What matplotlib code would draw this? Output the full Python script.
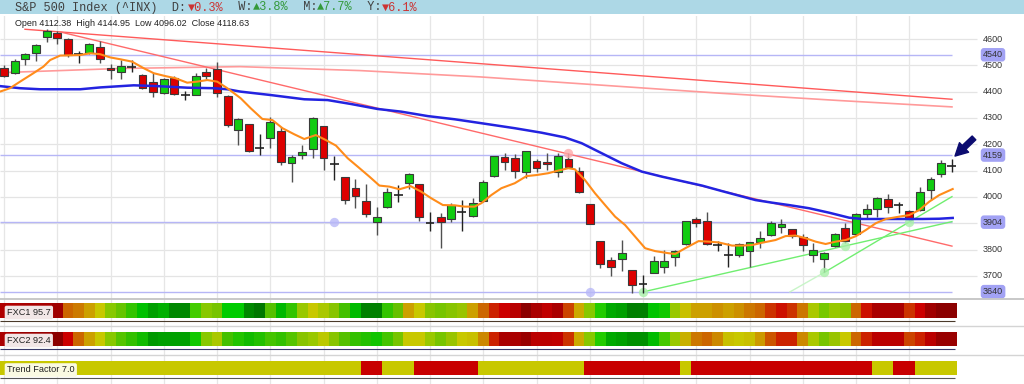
import matplotlib
matplotlib.use('Agg')
import matplotlib.pyplot as plt
from matplotlib.patches import Rectangle
import numpy as np

# ---------------- data ----------------
opens = [4491, 4472, 4525, 4546, 4606, 4624, 4599, 4546, 4548, 4571,
         4491, 4476, 4491, 4463, 4438, 4396, 4451, 4391, 4388, 4473,
         4487, 4385, 4254, 4277, 4185, 4223, 4252, 4130, 4159, 4182,
         4269, 4125, 4077, 4033, 3986, 3903, 3960, 4010, 4052, 4049,
         3902, 3925, 3917, 3941, 3927, 3984, 4079, 4150, 4147, 4093,
         4136, 4133, 4096, 4143, 4098, 3972, 3834, 3760, 3765, 3722,
         3669, 3712, 3735, 3773, 3821, 3916, 3908, 3821, 3782, 3778,
         3794, 3830, 3855, 3887, 3877, 3846, 3779, 3763, 3815, 3881,
         3859, 3934, 3953, 3992, 3969, 3948, 3950, 4026, 4086, 4112.38]
highs = [4501, 4523, 4548, 4580, 4637, 4630, 4603, 4554, 4586, 4592,
         4504, 4520, 4520, 4466, 4470, 4453, 4459, 4402, 4472, 4488,
         4511, 4387, 4299, 4277, 4238, 4305, 4267, 4159, 4197, 4305,
         4269, 4155, 4077, 4067, 4048, 3960, 4033, 4045, 4092, 4049,
         3943, 3940, 3978, 3988, 3995, 4064, 4155, 4166, 4163, 4174,
         4143, 4166, 4166, 4166, 4115, 3972, 3834, 3773, 3836, 3722,
         3703, 3775, 3798, 3798, 3908, 3925, 3943, 3834, 3826, 3826,
         3830, 3870, 3908, 3915, 3877, 3859, 3824, 3792, 3862, 3900,
         3940, 3972, 3998, 4011, 3982, 3950, 4039, 4077, 4140, 4144.95]
lows = [4454, 4466, 4501, 4518, 4589, 4581, 4530, 4508, 4542, 4510,
        4448, 4448, 4473, 4409, 4378, 4391, 4388, 4368, 4386, 4448,
        4381, 4267, 4197, 4169, 4159, 4185, 4121, 4058, 4143, 4147,
        4102, 4064, 3972, 3957, 3925, 3855, 3957, 3982, 4029, 3908,
        3872, 3805, 3906, 3870, 3922, 3982, 4074, 4102, 4071, 4071,
        4096, 4102, 4077, 4111, 4014, 3896, 3729, 3699, 3720, 3636,
        3634, 3710, 3712, 3737, 3817, 3887, 3816, 3796, 3732, 3773,
        3735, 3805, 3851, 3864, 3843, 3796, 3754, 3716, 3811, 3826,
        3855, 3915, 3925, 3938, 3938, 3912, 3948, 3988, 4077, 4096.02]
closes = [4461, 4518, 4543, 4576, 4630, 4603, 4539, 4542, 4581, 4525,
          4482, 4499, 4494, 4415, 4399, 4447, 4392, 4387, 4459, 4461,
          4394, 4274, 4295, 4176, 4183, 4283, 4134, 4150, 4172, 4299,
          4147, 4126, 3988, 4003, 3934, 3925, 4020, 4008, 4087, 3922,
          3903, 3903, 3969, 3943, 3976, 4055, 4155, 4134, 4100, 4174,
          4109, 4124, 4157, 4115, 4017, 3897, 3745, 3735, 3786, 3665,
          3668, 3758, 3758, 3794, 3908, 3902, 3820, 3816, 3780, 3820,
          3830, 3843, 3900, 3896, 3851, 3817, 3798, 3788, 3858, 3832,
          3935, 3955, 3995, 3963, 3968, 3919, 4020, 4068, 4128, 4118.63]

# short moving average (orange), sampled along the line
ma_fast_x = [-0.38, 0.56, 1.51, 2.76, 3.70, 4.33, 5.27, 7.16, 8.10, 9.04,
             9.98, 10.92, 12.02, 13.12, 14.06, 15.16, 16.10, 17.20, 18.14, 19.08,
             20.02, 20.97, 22.22, 23.16, 24.26, 25.2, 26.15, 27.25, 28.19, 29.28,
             30.22, 31.17, 32.27, 33.21, 34.31, 35.25, 36.19, 37.13, 38.17, 39.17,
             40.11, 41.21, 42.31, 43.25, 44.19, 44.82, 45.76, 46.70, 47.96, 49.06,
             50.0, 51.1, 52.04, 52.98, 53.6, 54.55, 55.49, 56.44, 57.38, 58.32,
             59.26, 60.2, 61.14, 62.4, 63.02, 63.97, 65.22, 66.16, 67.1, 68.36,
             69.3, 70.25, 71.19, 72.44, 73.38, 74.32, 75.27, 76.21, 77.15, 78.09,
             79.03, 80.0, 80.92, 81.86, 82.8, 84.06, 85.0, 85.94, 86.88, 87.82, 89.08]
ma_fast_y = [4400, 4413, 4438, 4470, 4495, 4520, 4537, 4539, 4546, 4542,
             4530, 4523, 4514, 4489, 4470, 4459, 4451, 4434, 4438, 4444,
             4438, 4413, 4375, 4337, 4296, 4292, 4261, 4238, 4220, 4235,
             4216, 4195, 4147, 4115, 4077, 4043, 4039, 4029, 4041, 4020,
             3995, 3969, 3968, 3963, 3963, 3976, 4007, 4033, 4052, 4079,
             4083, 4090, 4100, 4109, 4105, 4064, 4014, 3969, 3925, 3893,
             3849, 3805, 3794, 3786, 3783, 3805, 3832, 3830, 3827, 3815,
             3815, 3817, 3826, 3836, 3851, 3853, 3843, 3830, 3821, 3830,
             3836, 3851, 3874, 3900, 3916, 3925, 3931, 3950, 3982, 4007, 4030]

# longer moving average (blue)
ma_slow_x = [-0.38, 1.51, 3.39, 7.16, 9.04, 12.18, 14.38, 17.2, 19.71, 20.97,
             22.22, 25.05, 28.19, 30.38, 32.58, 35.09, 37.29, 39.8, 42.31, 44.82,
             47.96, 50.47, 52.67, 54.24, 56.12, 58.0, 59.89, 61.77, 63.65, 65.54,
             67.42, 68.99, 70.56, 72.13, 73.7, 75.58, 77.47, 79.35, 80.61, 82.18,
             84.35, 86.24, 87.82, 89.08]
ma_slow_y = [4421, 4413, 4409, 4409, 4416, 4424, 4421, 4415, 4413, 4409,
             4400, 4387, 4371, 4368, 4353, 4334, 4324, 4307, 4295, 4280,
             4261, 4244, 4226, 4204, 4166, 4128, 4096, 4077, 4060, 4043,
             4022, 4005, 3988, 3978, 3969, 3957, 3940, 3921, 3916, 3916,
             3916, 3916, 3917, 3920]

# very long moving average (light red)
ma_long_x = [-0.38, 10.89, 22.16, 33.43, 44.69, 55.96, 67.23, 78.5, 89.01]
ma_long_y = [4472, 4488, 4495, 4480, 4456, 4425, 4394, 4366, 4342]

# trend lines (start / end)
res1_x, res1_y = [1.97, 89.01], [4637, 4371]
res2_x, res2_y = [5.26, 89.01], [4627, 3813]
sup1_x, sup1_y = [60.0, 89.01], [3639, 3906]
sup2_fade_x, sup2_fade_y = [73.8, 77.02], [3639, 3713]
sup2_x, sup2_y = [77.02, 89.01], [3713, 4001]

# horizontal levels
levels = [4540, 4159, 3904, 3640]
tick_levels = [4600, 4500, 4400, 4300, 4200, 4100, 4000, 3800, 3700]

# pivot markers
pivot_purple_x, pivot_purple_y = [31, 55], [3904, 3640]
pivot_red_x, pivot_red_y = [53], [4166]
pivot_green_x, pivot_green_y = [60, 77, 79, 85], [3639, 3713, 3815, 3904]

# indicator strips (one cell per candle)
fxc1_colors = ['#b00000', '#b00000', '#a80000', '#a80000', '#a80000', '#a00000', '#cc6600', '#cc7a00', '#cca000', '#c8c800',
               '#88c800', '#66c400', '#33c400', '#00c000', '#00a000', '#00b000', '#008800', '#008800', '#44cc00', '#88c800',
               '#77c400', '#00cc00', '#00cc00', '#008800', '#007700', '#55c000', '#00b800', '#33c400', '#99c800', '#c8c800',
               '#aac800', '#88c400', '#44c000', '#00bb00', '#008000', '#008000', '#33c400', '#66c000', '#cca000', '#c8c800',
               '#88c400', '#77c400', '#88c400', '#99c400', '#cca000', '#cc6600', '#cc2200', '#cc0000', '#b80000', '#8b0000',
               '#aa0000', '#c00000', '#aa0000', '#cc4400', '#ccaa00', '#88c800', '#22cc00', '#00aa00', '#00a000', '#007f00',
               '#008000', '#00c400', '#11c800', '#99c800', '#c8c000', '#cca000', '#cca000', '#cc9000', '#cca000', '#cc9000',
               '#cc7700', '#cc6600', '#cc3300', '#cc1100', '#cc3300', '#cc7700', '#aac800', '#77c800', '#99c800', '#88c400',
               '#cc6600', '#cc1100', '#aa0000', '#aa0000', '#aa0000', '#cc3300', '#cc0000', '#a00000', '#8b0000', '#8b0000']
fxc2_colors = ['#aa0000', '#aa0000', '#990000', '#990000', '#990000', '#8b0000', '#cc0000', '#cc6600', '#cca000', '#c8c800',
               '#88c800', '#55c400', '#33c000', '#11bb00', '#009900', '#00a000', '#00a000', '#00a000', '#11c800', '#88c800',
               '#aac800', '#44c000', '#22c400', '#11bb00', '#22c000', '#44c400', '#33c000', '#55c400', '#88c400', '#99c800',
               '#bbc800', '#88c400', '#55c000', '#33c000', '#22c000', '#11c400', '#44c400', '#77c400', '#c8c800', '#c8c800',
               '#99c800', '#77c400', '#99c400', '#c8c800', '#c8c000', '#cc8800', '#cc2200', '#aa0000', '#aa0000', '#990000',
               '#bb0000', '#bb0000', '#c00000', '#cc3300', '#ccaa00', '#88c800', '#22cc00', '#00aa00', '#00a000', '#009000',
               '#009000', '#00bb00', '#44c800', '#99c800', '#c8b000', '#cc7700', '#cc6600', '#cc8800', '#c8c000', '#c8c800',
               '#c8c000', '#cc9900', '#cc5500', '#cc2200', '#cc2200', '#cc8800', '#aac800', '#77c400', '#99c400', '#c8c800',
               '#cc6600', '#cc2200', '#bb0000', '#bb0000', '#bb0000', '#cc4400', '#cc2200', '#bb0000', '#990000', '#990000']
# Y = yellow, R = red
trend_state = ("YYYYYYYYYY" "YYYYYYYYYY" "YYYYYYYYYY" "YYYY"
               "RR" "YYY" "RRRRRR" "YYYYYYYYYY" "RRRRRRRRR" "Y"
               "RRRRRRRRRRRRRRRRR" "YY" "RR" "YYYY")

fxc1_value, fxc2_value, trend_value = 95.7, 92.4, 7.0

# ---------------- layout ----------------
W, H = 1024, 384
STEP = 10.65          # pixels per candle


def px2idx(px):
    return (px - 4) / STEP


def py2price(py):
    return 4600 - (py - 39) * 3.8


fig = plt.figure(figsize=(W / 100, H / 100), dpi=100)
fig.patch.set_facecolor('white')

x0, x1 = px2idx(0), px2idx(W)
ax = fig.add_axes([0, 86 / H, 1, 282 / H])
ax.set_xlim(x0, x1)
ax.set_ylim(py2price(298), py2price(16))
ax.axis('off')

# grid
ax.hlines(range(3700, 4700, 100), x0, px2idx(977), color='#e4e4e4', lw=0.9, zorder=0)
for k in range(0, 90, 5):
    ax.axvline(k, color='#e6e6e6', lw=0.9, zorder=0)
ax.hlines(levels, x0, 89.05, color='#b6b6f6', lw=1.0, zorder=1)

# moving averages / trend lines behind candles
ax.plot(ma_long_x, ma_long_y, color='#ff9a9a', lw=1.2, zorder=2)
ax.plot(res1_x, res1_y, color='#ff5a5a', lw=1.0, zorder=2)
ax.plot(res2_x, res2_y, color='#ff6a6a', lw=1.0, zorder=2)
ax.plot(sup2_fade_x, sup2_fade_y, color='#c8f5c8', lw=1.0, zorder=2)
ax.plot(sup1_x, sup1_y, color='#70ee70', lw=1.0, zorder=2)
ax.plot(sup2_x, sup2_y, color='#70ee70', lw=1.0, zorder=2)

# candles
o = np.array(opens, float)
h = np.array(highs, float)
l = np.array(lows, float)
c = np.array(closes, float)
idx = np.arange(len(o))
doji = np.abs(c - o) < 7
up = (c > o) & ~doji
dn = (c < o) & ~doji

ax.vlines(idx[~doji], l[~doji], h[~doji], color='#505050', lw=1.0, zorder=3)
ax.bar(idx[up], (c - o)[up], bottom=o[up], width=0.74, color='#11cc11',
       edgecolor='#3a3a3a', lw=0.8, zorder=4)
ax.bar(idx[dn], (o - c)[dn], bottom=c[dn], width=0.74, color='#dd0000',
       edgecolor='#3a3a3a', lw=0.8, zorder=4)
ax.vlines(idx[doji], l[doji], h[doji], color='#222222', lw=1.0, zorder=4)
ax.hlines(((o + c) / 2)[doji], idx[doji] - 0.42, idx[doji] + 0.42, color='#222222', lw=1.2, zorder=4)

ax.plot(ma_slow_x, ma_slow_y, color='#2323e0', lw=1.8, zorder=5)
ax.plot(ma_fast_x, ma_fast_y, color='#ff8c1a', lw=1.5, zorder=6)

# pivot dots
ax.scatter(pivot_purple_x, pivot_purple_y, s=45, color='#b8b8f8', alpha=0.8, lw=0, zorder=3)
ax.scatter(pivot_red_x, pivot_red_y, s=45, color='#ffaaaa', alpha=0.8, lw=0, zorder=3)
ax.scatter(pivot_green_x, pivot_green_y, s=45, color='#a8f0a8', alpha=0.8, lw=0, zorder=3)

# right-hand price labels
for lv in tick_levels:
    ax.text(px2idx(983), lv, str(lv), fontsize=6.5, color='#333333', va='center', ha='left',
            family='Liberation Sans', clip_on=False)
for lv in levels:
    ax.text(px2idx(983), lv, str(lv), fontsize=6.5, color='#333333', va='center', ha='left',
            family='Liberation Sans', clip_on=False,
            bbox=dict(boxstyle='round,pad=0.25,rounding_size=0.35', fc='#a2a2f4', ec='none'))

# arrow pointing at the last candle
ax.annotate('', xy=(px2idx(953), py2price(158)), xytext=(px2idx(976), py2price(136)),
            arrowprops=dict(arrowstyle='simple,head_width=0.95,head_length=0.9,tail_width=0.38',
                            fc='#0c0c70', ec='#0c0c70'), zorder=7)

# ---------------- header ----------------
fig.add_artist(Rectangle((0, 1 - 14 / H), 1, 14 / H, transform=fig.transFigure,
                         fc='#add8e6', ec='none', zorder=0))
cw = 7.2
hy = 1 - 7.5 / H
pieces = [('S&P 500 Index (^INX)  D:', 0, '#404040'), ('\u25bc0.3%', 24, '#cc3333'),
          ('  W:', 29, '#404040'), ('\u25b23.8%', 33, '#33993a'),
          ('  M:', 38, '#404040'), ('\u25b27.7%', 42, '#33993a'),
          ('  Y:', 47, '#404040'), ('\u25bc6.1%', 51, '#cc3333')]
for txt, n, col in pieces:
    fig.text((15 + n * cw) / W, hy, txt, family=['Liberation Mono', 'DejaVu Sans Mono'],
             fontsize=8.6, color=col, va='center', ha='left')

fig.text(15 / W, 1 - 23 / H,
         f'Open {opens[-1]:.2f}  High {highs[-1]:.2f}  Low {lows[-1]:.2f}  Close {closes[-1]:.2f}',
         fontsize=6.5, family='Liberation Sans', color='#222222', va='center', ha='left')

# ---------------- indicator strips ----------------
ax2 = fig.add_axes([0, 0, 1, 86 / H])
ax2.set_xlim(x0, x1)
ax2.set_ylim(H, 298)
ax2.axis('off')
for k in range(0, 90, 5):
    ax2.axvline(k, color='#e6e6e6', lw=0.9, zorder=0)
ax2.axhline(298.5, color='#c4c4c4', lw=1.3, zorder=1)
ax2.axhline(326, color='#d4d4d4', lw=1.0, zorder=1)
ax2.axhline(355, color='#d4d4d4', lw=1.0, zorder=1)

trend_colors = ['#c80000' if s == 'R' else '#c8c800' for s in trend_state]
ax2.bar(idx, 15, bottom=303, width=1.0, color=fxc1_colors, lw=0, zorder=2)
ax2.bar(idx, 14.5, bottom=331.5, width=1.0, color=fxc2_colors, lw=0, zorder=2)
ax2.bar(idx, 14.3, bottom=360.7, width=1.0, color=trend_colors, lw=0, zorder=2)

ax2.hlines(320.5, x0, 89.3, color='#4a3a2a', lw=0.8, zorder=2)
ax2.hlines(348.5, x0, 89.3, color='#3a3a6a', lw=0.8, zorder=2)
ax2.hlines(377.5, x0, 89.3, color='#555555', lw=0.8, zorder=2)

for txt, py, fc in [(f'FXC1 {fxc1_value}', 312.5, '#f2e6e6'),
                    (f'FXC2 {fxc2_value}', 340.5, '#f2e6e6'),
                    (f'Trend Factor {trend_value}', 370, '#fafae2')]:
    fig.text(7 / W, 1 - py / H, txt, fontsize=6.6, family='Liberation Sans', color='#222222',
             va='center', ha='left',
             bbox=dict(boxstyle='round,pad=0.25,rounding_size=0.2', fc=fc, ec='none'))

fig.savefig('out.png', dpi=100, facecolor='white')
